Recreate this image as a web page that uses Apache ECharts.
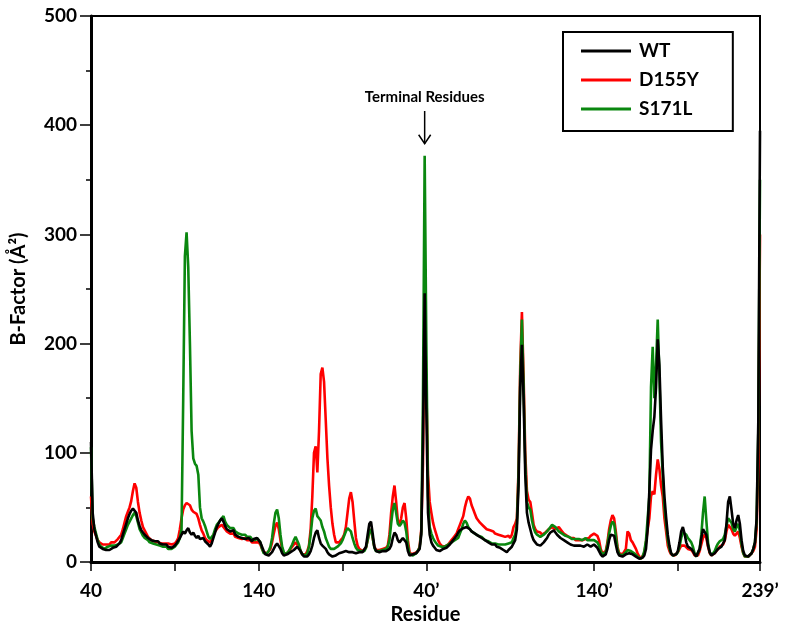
<!DOCTYPE html>
<html>
<head>
<meta charset="utf-8">
<script src="https://cdn.jsdelivr.net/npm/echarts@6/dist/echarts.min.js"></script>
<style>
  html, body { margin: 0; padding: 0; background: #fff; }
  #chart { width: 787px; height: 623px; }
</style>
</head>
<body>
<div id="chart"></div>
<script>
// ---- Data ----
const chainStart = 40;
const chainEnd = 239;
const primeMark = '\u2019';

// Tick labels shown on the residue axis
const xTickLabels = ['40', '140', '40' + primeMark, '140' + primeMark, '239' + primeMark];
const xTickEvery = 50; // a tick every 50 residues plus the last residue

const seriesNames = ['WT', 'D155Y', 'S171L'];

// WT, chain A (residues 40-239)
const wtChainA = [
  110, 45, 30, 24, 18, 14, 13, 12, 11, 11,
  12, 11, 12, 13, 12, 14, 15, 17, 20, 25,
  30, 35, 40, 44, 47, 49, 50, 45, 38, 33,
  29, 27, 25, 24, 22, 21, 20, 21, 19, 18,
  19, 17, 18, 16, 15, 16, 14, 15, 13, 14,
  15, 17, 18, 22, 25, 28, 26, 29, 31, 27,
  25, 27, 24, 22, 24, 21, 20, 22, 19, 18,
  16, 14, 17, 22, 27, 32, 35, 38, 40, 37,
  33, 30, 31, 28, 27, 29, 25, 26, 23, 24,
  22, 23, 21, 20, 22, 21, 19, 21, 20, 22,
  20, 18, 14, 10, 7, 6, 6, 7, 9, 12,
  15, 17, 16, 12, 8, 6, 6, 7, 8, 9,
  10, 11, 12, 14, 13, 10, 7, 5, 5, 5,
  7, 10, 15, 22, 27, 29, 22, 17, 15, 14,
  12, 9, 7, 6, 5, 5, 6, 7, 8, 8,
  9, 9, 10, 10, 9, 10, 9, 9, 8, 8,
  9, 8, 9, 10, 14, 25, 35, 37, 26, 14,
  10, 9, 9, 10, 10, 9, 10, 11, 12, 15,
  22, 27, 25, 20, 18, 20, 22, 23, 18, 10,
  6, 6, 7, 7, 8, 8, 12, 25, 110, 246
];
// WT, chain B (residues 40'-239')
const wtChainB = [
  140, 45, 25, 18, 15, 13, 11, 10, 10, 11,
  12, 12, 13, 14, 16, 18, 20, 22, 24, 27,
  29, 30, 31, 32, 32, 31, 30, 28, 27, 26,
  25, 24, 23, 22, 21, 20, 19, 18, 17, 16,
  15, 16, 14, 15, 13, 12, 11, 10, 9, 11,
  12, 14, 15, 20, 30, 70, 160, 199, 150, 80,
  45, 36, 30, 24, 20, 18, 16, 17, 15, 16,
  18, 20, 22, 25, 27, 28, 29, 27, 25, 24,
  22, 21, 20, 19, 18, 17, 16, 17, 15, 16,
  15, 14, 15, 16, 14, 15, 16, 15, 14, 15,
  16, 15, 13, 10, 7, 5, 5, 7, 12, 20,
  25, 26, 24, 16, 9, 6, 5, 5, 6, 7,
  8, 8, 8, 7, 6, 5, 4, 3, 3, 4,
  6, 12, 30, 65, 103, 120, 133, 160, 204, 180,
  130, 87, 60, 41, 25, 15, 8, 6, 6, 7,
  10, 18, 28, 32, 26, 18, 14, 13, 12, 10,
  7, 5, 6, 12, 22, 30, 31, 25, 15, 9,
  6, 6, 8, 10, 12, 13, 14, 15, 20, 35,
  55, 60, 48, 35, 31, 38, 43, 35, 20, 10,
  6, 5, 5, 6, 8, 12, 18, 40, 130, 395
];

// D155Y, chain A
const d155yChainA = [
  60, 35, 28, 24, 20, 18, 17, 16, 17, 16,
  17, 16, 18, 17, 18, 19, 21, 22, 25, 30,
  36, 42, 46, 50, 56, 65, 72, 68, 55, 45,
  38, 32, 29, 26, 23, 22, 20, 21, 19, 20,
  18, 19, 17, 18, 17, 16, 17, 18, 16, 17,
  17, 19, 22, 30, 40, 48, 52, 54, 55, 52,
  48, 46, 45, 44, 40, 34, 29, 26, 22, 20,
  19, 18, 20, 24, 28, 30, 32, 33, 34, 33,
  30, 28, 27, 26, 25, 26, 23, 24, 22, 23,
  21, 20, 22, 20, 19, 20, 18, 19, 18, 19,
  18, 16, 12, 9, 8, 8, 9, 12, 18, 26,
  33, 36, 30, 20, 12, 8, 7, 8, 10, 12,
  14, 16, 18, 17, 14, 10, 7, 6, 7, 10,
  15, 30, 60, 100, 106, 82, 120, 172, 178, 165,
  130, 95, 70, 50, 35, 25, 18, 17, 18, 20,
  22, 25, 32, 45, 58, 64, 55, 38, 22, 15,
  12, 11, 10, 11, 13, 20, 28, 30, 22, 14,
  11, 10, 11, 12, 12, 13, 13, 15, 25, 45,
  60, 70, 55, 38, 35, 40, 50, 54, 40, 20,
  9, 7, 7, 8, 9, 10, 14, 30, 90, 240
];
// D155Y, chain B
const d155yChainB = [
  160, 80, 55, 45, 36, 30, 25, 20, 17, 15,
  15, 14, 15, 16, 18, 20, 22, 24, 26, 30,
  34, 38, 42, 50, 56, 60, 58, 52, 48, 44,
  40, 38, 36, 35, 33, 32, 30, 31, 29, 28,
  28, 26, 27, 25, 26, 24, 25, 23, 22, 24,
  22, 25, 32, 35, 40, 85, 180, 229, 170, 100,
  65, 57, 55, 45, 34, 30, 28, 29, 27, 25,
  26, 27, 28, 30, 31, 32, 31, 30, 31, 32,
  30, 28, 26, 25, 24, 23, 22, 21, 22, 20,
  21, 20, 19, 20, 19, 21, 20, 22, 24, 25,
  26, 25, 24, 20, 12, 8, 8, 10, 18, 30,
  38, 43, 40, 28, 14, 8, 7, 7, 8, 12,
  28, 26, 20, 18, 15, 12, 8, 5, 3, 4,
  8, 18, 30, 40, 60, 65, 62, 80, 94, 85,
  70, 60, 40, 28, 15, 10, 7, 6, 6, 7,
  9, 12, 15, 16, 15, 14, 12, 12, 11, 9,
  6, 5, 6, 10, 16, 22, 25, 22, 14, 8,
  6, 6, 8, 10, 12, 14, 15, 16, 20, 28,
  34, 35, 30, 26, 24, 26, 28, 22, 14, 8,
  5, 5, 5, 6, 8, 10, 14, 30, 90, 300
];

// S171L, chain A
const s171lChainA = [
  105, 40, 32, 26, 20, 16, 14, 13, 12, 13,
  14, 13, 15, 14, 15, 14, 16, 16, 18, 22,
  26, 30, 34, 37, 40, 43, 45, 42, 36, 30,
  27, 24, 22, 21, 20, 18, 19, 17, 18, 16,
  17, 15, 16, 14, 13, 14, 12, 13, 12, 13,
  14, 16, 18, 22, 30, 150, 280, 302, 270, 200,
  120, 95, 90, 88, 80, 50, 40, 37, 33, 28,
  23, 21, 22, 25, 30, 34, 36, 38, 40, 42,
  37, 34, 33, 31, 30, 31, 28, 29, 26, 27,
  25, 24, 25, 23, 22, 23, 21, 22, 20, 22,
  22, 18, 12, 8, 7, 8, 10, 14, 22, 35,
  45, 48, 40, 25, 14, 9, 7, 8, 10, 13,
  16, 20, 23, 22, 16, 10, 7, 6, 6, 8,
  14, 25, 40, 47, 49, 42, 40, 38, 32, 28,
  22, 18, 14, 12, 12, 12, 13, 14, 15, 17,
  20, 24, 28, 31, 32, 28, 22, 17, 13, 11,
  10, 10, 9, 10, 13, 20, 28, 30, 22, 13,
  10, 9, 10, 11, 11, 12, 12, 14, 20, 35,
  48, 54, 45, 35, 33, 35, 38, 36, 28, 15,
  7, 6, 6, 7, 8, 9, 13, 28, 150, 372
];
// S171L, chain B
const s171lChainB = [
  200, 60, 32, 26, 22, 19, 17, 15, 14, 14,
  15, 14, 15, 16, 17, 18, 19, 20, 20, 22,
  26, 30, 35, 38, 36, 32, 30, 28, 27, 26,
  25, 24, 24, 23, 22, 20, 20, 19, 18, 17,
  18, 17, 18, 16, 17, 16, 17, 16, 17, 17,
  16, 18, 22, 25, 35, 80, 170, 222, 160, 90,
  55, 50, 48, 38, 31, 27, 25, 24, 23, 24,
  25, 26, 28, 30, 32, 34, 34, 32, 30, 28,
  27, 26, 25, 24, 25, 23, 22, 21, 22, 21,
  22, 21, 22, 20, 21, 22, 20, 21, 20, 21,
  20, 19, 18, 15, 10, 7, 7, 9, 16, 26,
  33, 37, 35, 24, 12, 7, 6, 6, 7, 9,
  11, 12, 10, 9, 8, 7, 5, 4, 3, 5,
  10, 20, 40, 60, 160, 197, 150, 180, 222, 170,
  110, 80, 50, 35, 20, 12, 8, 6, 6, 7,
  9, 14, 22, 27, 26, 25, 22, 20, 18, 14,
  8, 5, 6, 12, 25, 45, 60, 38, 18, 9,
  6, 7, 10, 14, 17, 19, 20, 21, 25, 33,
  40, 41, 36, 30, 28, 32, 35, 28, 16, 8,
  5, 5, 5, 6, 8, 12, 18, 38, 120, 350
];

const annotationText = 'Terminal Residues';
const annotationResidue = '239';   // residue the arrow points to
const annotationValues = { text: 426, arrowTop: 413, arrowTip: 383 };

// ---- Build categories ----
const residuesA = [];
const residuesB = [];
for (let r = chainStart; r <= chainEnd; r++) {
  residuesA.push(String(r));
  residuesB.push(String(r) + primeMark);
}
const categories = residuesA.concat(residuesB);
const wt = wtChainA.concat(wtChainB);
const d155y = d155yChainA.concat(d155yChainB);
const s171l = s171lChainA.concat(s171lChainB);

const FONT = 'Lato, "Open Sans", "DejaVu Sans", sans-serif';
const lastIdx = categories.length - 1;

const chart = echarts.init(document.getElementById('chart'), null, { renderer: 'canvas' });

const option = {
  animation: false,
  backgroundColor: '#ffffff',
  grid: {
    left: 91, right: 27, top: 16, bottom: 61,
    outerBoundsMode: 'none',
    containLabel: false,
    show: true, borderColor: '#000', borderWidth: 2, backgroundColor: 'transparent'
  },
  legend: {
    orient: 'vertical',
    left: 563, top: 32,
    data: seriesNames,
    icon: 'rect',
    itemWidth: 50, itemHeight: 3,
    itemGap: 7,
    padding: [8, 34, 11, 18],
    borderColor: '#000', borderWidth: 2,
    backgroundColor: '#fff',
    selectedMode: false,
    textStyle: { fontFamily: FONT, fontWeight: 'bold', fontSize: 19, color: '#000', padding: [0, 0, 0, 3], lineHeight: 22 }
  },
  xAxis: {
    type: 'category',
    data: categories,
    boundaryGap: false,
    name: 'Residue',
    nameLocation: 'middle',
    nameGap: 37,
    nameTextStyle: { fontFamily: FONT, fontWeight: 'bold', fontSize: 20, color: '#000' },
    axisLine: { show: true, lineStyle: { color: '#000', width: 3 } },
    axisTick: {
      show: true, length: 9,
      lineStyle: { color: '#000', width: 1.5 },
      interval: function (i) { return i % xTickEvery === 0 || i === lastIdx; }
    },
    axisLabel: {
      fontFamily: FONT, fontWeight: 'bold', fontSize: 19, color: '#000', margin: 19,
      interval: function (i, v) { return xTickLabels.indexOf(v) >= 0; },
      showMaxLabel: true
    },
    splitLine: { show: false }
  },
  yAxis: {
    type: 'value',
    min: 0, max: 500, interval: 100,
    name: 'B-Factor (\u00C5\u00B2)',
    nameLocation: 'middle',
    nameGap: 62,
    nameTextStyle: { fontFamily: FONT, fontWeight: 'bold', fontSize: 20, color: '#000' },
    axisLine: { show: true, lineStyle: { color: '#000', width: 3 } },
    axisTick: { show: true, length: 11, lineStyle: { color: '#000', width: 1.5 } },
    minorTick: { show: true, splitNumber: 2, length: 5, lineStyle: { color: '#000', width: 1.5 } },
    axisLabel: { fontFamily: FONT, fontWeight: 'bold', fontSize: 19, color: '#000', margin: 14 },
    splitLine: { show: false }
  },
  series: [
    { name: 'WT', type: 'line', data: wt, symbol: 'none', z: 5,
      lineStyle: { color: '#000000', width: 2.6 }, itemStyle: { color: '#000000' } },
    { name: 'D155Y', type: 'line', data: d155y, symbol: 'none', z: 3,
      lineStyle: { color: '#ff0000', width: 2.6 }, itemStyle: { color: '#ff0000' } },
    { name: 'S171L', type: 'line', data: s171l, symbol: 'none', z: 4,
      lineStyle: { color: '#0a870f', width: 2.6 }, itemStyle: { color: '#0a870f' } }
  ]
};
chart.setOption(option);

// Annotation tied to data coordinates
const ax = chart.convertToPixel({ xAxisIndex: 0 }, annotationResidue);
const yText = chart.convertToPixel({ yAxisIndex: 0 }, annotationValues.text);
const yTop = chart.convertToPixel({ yAxisIndex: 0 }, annotationValues.arrowTop);
const yTip = chart.convertToPixel({ yAxisIndex: 0 }, annotationValues.arrowTip);
chart.setOption({
  graphic: [
    { type: 'text', x: ax, y: yText, z: 10,
      style: { text: annotationText, fontFamily: FONT, fontWeight: 'bold', fontSize: 15, fill: '#000',
               align: 'center', verticalAlign: 'middle' } },
    { type: 'line', z: 10, shape: { x1: ax, y1: yTop, x2: ax, y2: yTip },
      style: { stroke: '#000', lineWidth: 1.5 } },
    { type: 'polyline', z: 10, shape: { points: [[ax - 6, yTip - 9], [ax, yTip], [ax + 6, yTip - 9]] },
      style: { stroke: '#000', lineWidth: 1.5, fill: null } }
  ]
});
</script>
</body>
</html>
